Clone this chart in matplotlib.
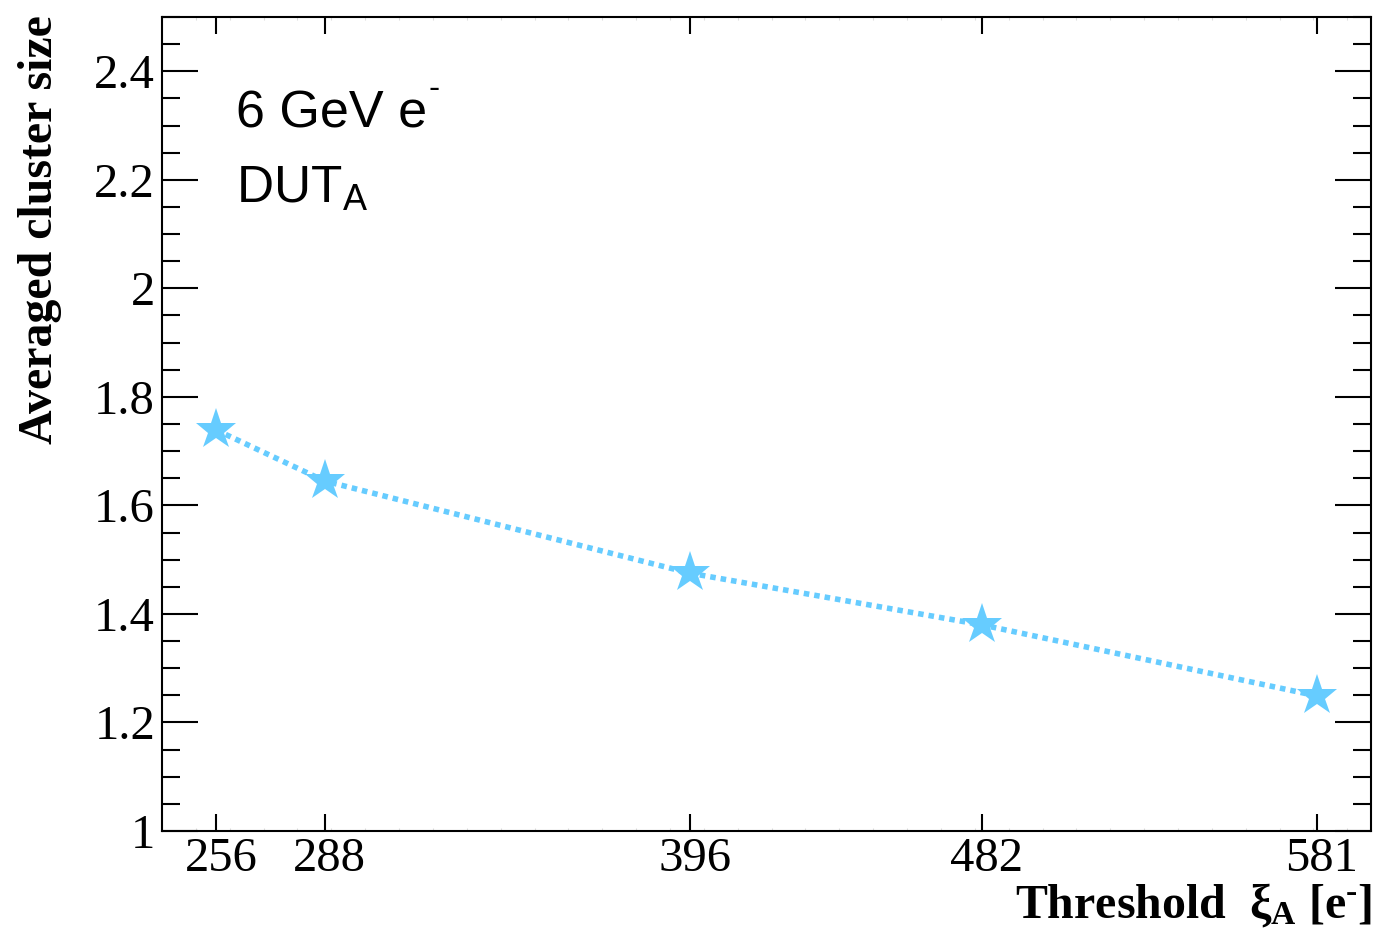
#!/usr/bin/env python3
"""Averaged cluster size vs threshold, DUT_A, 6 GeV e- beam."""

import matplotlib
matplotlib.use("Agg")
import matplotlib.pyplot as plt
import matplotlib.ticker as ticker
import matplotlib.transforms as mtransforms

# ── Data ──────────────────────────────────────────────────────────────────────
THRESHOLDS   = [256, 288, 396, 482, 581]
CLUSTER_SIZE = [1.739, 1.645, 1.475, 1.380, 1.249]
XTICK_LABELS = ["256", "288", "396", "482", "581"]
YTICKS       = [1.0, 1.2, 1.4, 1.6, 1.8, 2.0, 2.2, 2.4]
YTICK_LABELS = ["1", "1.2", "1.4", "1.6", "1.8", "2", "2.2", "2.4"]

COLOR = "#66CCFF"
SERIF = "Liberation Serif"
SANS  = "Liberation Sans"
HYPH  = "\u2010"

W, H = 1379, 948

plt.rcParams.update({
    "font.family": SERIF,
    "axes.linewidth": 1.5,
})

fig = plt.figure(figsize=(W / 100, H / 100), dpi=100)
ax = fig.add_axes([162 / W, 1 - 831 / H, (1371 - 162) / W, (831 - 17) / H])

ax.plot(THRESHOLDS, CLUSTER_SIZE, color=COLOR, linestyle=(0, (1.0, 0.9)),
        linewidth=4, marker="*", markersize=31, markeredgewidth=0,
        markerfacecolor=COLOR, zorder=3)

ax.set_xlim(240, 597)
ax.set_ylim(1.0, 2.5)

# x: major at the threshold values, faint minor every 10
ax.set_xticks(THRESHOLDS)
ax.set_xticklabels(XTICK_LABELS)
ax.xaxis.set_minor_locator(ticker.MultipleLocator(10))
ax.tick_params(axis="x", which="major", direction="in", length=12, width=1.5,
               top=True, bottom=True, labelsize=35, pad=4)
ax.tick_params(axis="x", which="minor", direction="in", length=2, width=0.8,
               color="#dddddd", top=True, bottom=True)

# y: major every 0.2, minor every 0.05
ax.set_yticks(YTICKS)
ax.set_yticklabels(YTICK_LABELS)
ax.yaxis.set_minor_locator(ticker.MultipleLocator(0.05))
ax.tick_params(axis="y", which="major", direction="in", length=26, width=1.5,
               left=True, right=True, labelsize=35, pad=5)
ax.tick_params(axis="y", which="minor", direction="in", length=13, width=1.5,
               left=True, right=True)

# ROOT draws the x labels a little right of the tick
shift = mtransforms.ScaledTranslation(5 / 100, 0, fig.dpi_scale_trans)
for lbl in ax.get_xticklabels():
    lbl.set_transform(lbl.get_transform() + shift)
for lbl in ax.get_xticklabels() + ax.get_yticklabels():
    lbl.set_fontfamily(SERIF)


def px(x, y):
    """pixel (from top-left) -> figure fraction"""
    return x / W, 1 - y / H


# ── Axis titles (ROOT style, right/top aligned) ──────────────────────────────
fig.text(*px(1372, 918),
         r"Threshold  $\mathregular{\xi_{A}}$ [e$\mathregular{^{" + HYPH + "}}$]",
         ha="right", va="baseline", fontsize=34.5, fontweight="bold",
         fontfamily=SERIF)
fig.text(*px(62, 15), "Averaged cluster size",
         ha="right", va="top", rotation=90, fontsize=34.5, fontweight="bold",
         fontfamily=SERIF)

# ── Labels in the frame ──────────────────────────────────────────────────────
fig.text(*px(236, 128), "6 GeV e", fontsize=37.5, fontfamily=SANS, va="baseline")
fig.text(*px(428, 98), HYPH, fontsize=24, fontfamily=SANS, va="baseline")
fig.text(*px(236, 203), r"DUT$\mathregular{_{A}}$",
         fontsize=37, fontfamily=SANS, va="baseline")

fig.savefig("out.png", dpi=100)
